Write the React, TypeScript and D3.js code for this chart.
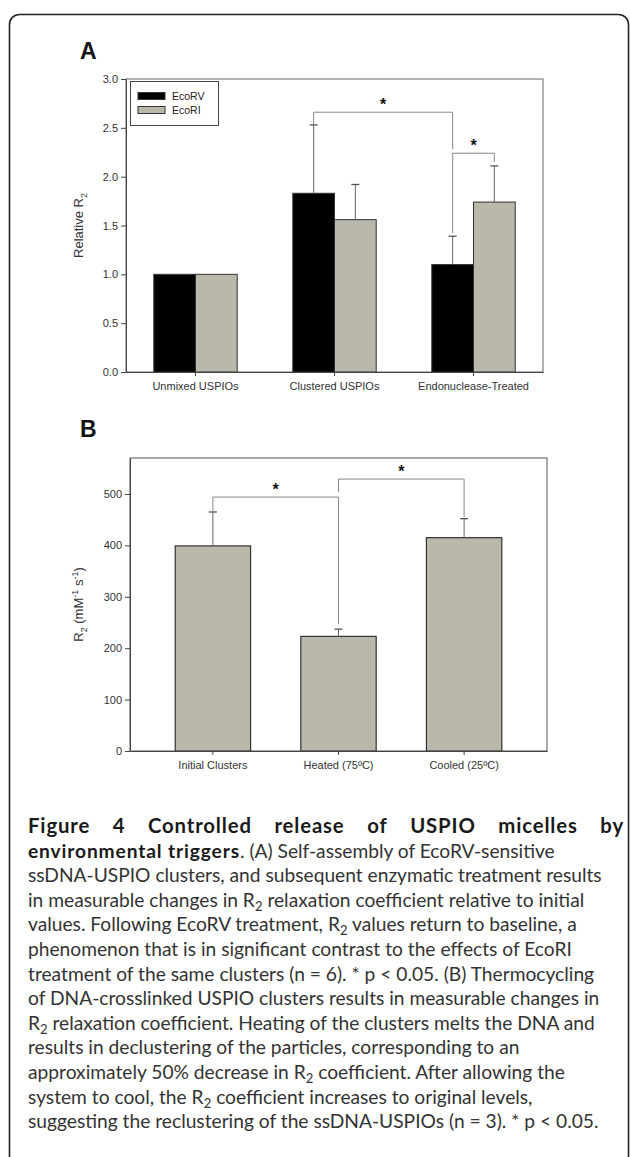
import * as d3 from "d3";
import React, { useEffect, useRef } from "react";

// panel A data
const groupsA = ["Unmixed USPIOs", "Clustered USPIOs", "Endonuclease-Treated"];
const enzymes = ["EcoRV", "EcoRI"];
const ecoRV = [1.0, 1.83, 1.1];
const ecoRVErr = [0, 0.7, 0.29];
const ecoRI = [1.0, 1.56, 1.74];
const ecoRIErr = [0, 0.36, 0.37];
const ticksA = [0, 0.5, 1.0, 1.5, 2.0, 2.5, 3.0];

// panel B data
const groupsB = ["Initial Clusters", "Heated (75ºC)", "Cooled (25ºC)"];
const r2 = [399, 223, 415];
const r2Err = [66, 14, 37];
const ticksB = [0, 100, 200, 300, 400, 500];

// significance brackets: [from, to, top, leftFoot, rightFoot]
const sigA = [
  [["Clustered USPIOs", "EcoRV"], ["Endonuclease-Treated", "EcoRV"], 2.66, 2.53, 2.28],
  [["Endonuclease-Treated", "EcoRV"], ["Endonuclease-Treated", "EcoRI"], 2.24, 1.42, 2.15],
];
const sigB = [
  ["Initial Clusters", "Heated (75ºC)", 494, 465, 247],
  ["Heated (75ºC)", "Cooled (25ºC)", 529, 504, 455],
];

// caption lines, segments: [text, bold?]  "_2" = subscript 2
const caption = [
  [["Figure 4 Controlled release of USPIO micelles by", true]],
  [["environmental triggers", true], [". (A) Self-assembly of EcoRV-sensitive", false]],
  [["ssDNA-USPIO clusters, and subsequent enzymatic treatment results", false]],
  [["in measurable changes in R_2 relaxation coefficient relative to initial", false]],
  [["values. Following EcoRV treatment, R_2 values return to baseline, a", false]],
  [["phenomenon that is in significant contrast to the effects of EcoRI", false]],
  [["treatment of the same clusters (n = 6). * p < 0.05. (B) Thermocycling", false]],
  [["of DNA-crosslinked USPIO clusters results in measurable changes in", false]],
  [["R_2 relaxation coefficient. Heating of the clusters melts the DNA and", false]],
  [["results in declustering of the particles, corresponding to an", false]],
  [["approximately 50% decrease in R_2 coefficient. After allowing the", false]],
  [["system to cool, the R_2 coefficient increases to original levels,", false]],
  [["suggesting the reclustering of the ssDNA-USPIOs (n = 3). * p < 0.05.", false]],
];

const W = 630;
const H = 1157;
const FONT = "'Liberation Sans', Arial, sans-serif";
const CAPFONT = "Lato, 'Open Sans', sans-serif";
const GRAY = "#b9b8aa";

function Figure() {
  const ref = useRef(null);

  useEffect(() => {
    const svg = d3.select(ref.current);
    svg.selectAll("*").remove();

    // outer frame
    svg
      .append("rect")
      .attr("x", 9.5)
      .attr("y", 14.5)
      .attr("width", 619)
      .attr("height", 1180)
      .attr("rx", 10)
      .attr("fill", "none")
      .attr("stroke", "#222")
      .attr("stroke-width", 1.6);

    const panelLabel = (t, y) =>
      svg
        .append("text")
        .attr("x", 80)
        .attr("y", y)
        .attr("font-family", FONT)
        .attr("font-weight", "bold")
        .attr("font-size", 23)
        .attr("fill", "#111")
        .text(t);

    // ---------- panel A ----------
    panelLabel("A", 59);
    const x0 = d3.scaleBand().domain(groupsA).range([126, 543]).paddingInner(0.4).paddingOuter(0.2);
    const x1 = d3.scaleBand().domain(enzymes).range([0, x0.bandwidth()]);
    const yA = d3.scaleLinear().domain([0, 3]).range([372, 79]);
    const cx = (g, e) => x0(g) + x1(e) + x1.bandwidth() / 2;

    const gA = svg.append("g");
    gA.append("rect")
      .attr("x", 126)
      .attr("y", yA(3))
      .attr("width", 543 - 126)
      .attr("height", yA(0) - yA(3))
      .attr("fill", "none")
      .attr("stroke", "#666");

    const rowsA = groupsA.flatMap((g, i) => [
      { g, e: "EcoRV", v: ecoRV[i], err: ecoRVErr[i], fill: "#000" },
      { g, e: "EcoRI", v: ecoRI[i], err: ecoRIErr[i], fill: GRAY },
    ]);

    gA.selectAll("rect.bar")
      .data(rowsA)
      .join("rect")
      .attr("class", "bar")
      .attr("x", (d) => x0(d.g) + x1(d.e))
      .attr("y", (d) => yA(d.v))
      .attr("width", x1.bandwidth())
      .attr("height", (d) => yA(0) - yA(d.v))
      .attr("fill", (d) => d.fill)
      .attr("stroke", "#333");

    const errA = gA.selectAll("g.err").data(rowsA.filter((d) => d.err > 0)).join("g");
    errA.append("line")
      .attr("x1", (d) => cx(d.g, d.e))
      .attr("x2", (d) => cx(d.g, d.e))
      .attr("y1", (d) => yA(d.v))
      .attr("y2", (d) => yA(d.v + d.err))
      .attr("stroke", "#666");
    errA.append("line")
      .attr("x1", (d) => cx(d.g, d.e) - 4)
      .attr("x2", (d) => cx(d.g, d.e) + 4)
      .attr("y1", (d) => yA(d.v + d.err))
      .attr("y2", (d) => yA(d.v + d.err))
      .attr("stroke", "#555")
      .attr("stroke-width", 1.3);

    sigA.forEach(([a, b, top, lf, rf]) => {
      const xa = cx(a[0], a[1]);
      const xb = cx(b[0], b[1]);
      gA.append("path")
        .attr("d", `M${xa},${yA(lf)}V${yA(top)}H${xb}V${yA(rf)}`)
        .attr("fill", "none")
        .attr("stroke", "#888");
      gA.append("text")
        .attr("x", (xa + xb) / 2)
        .attr("y", yA(top) - 2)
        .attr("text-anchor", "middle")
        .attr("font-family", FONT)
        .attr("font-weight", "bold")
        .attr("font-size", 16)
        .attr("fill", "#111")
        .text("*");
    });

    const axA = gA.append("g")
      .attr("transform", "translate(126,0)")
      .call(d3.axisLeft(yA).tickValues(ticksA).tickFormat(d3.format(".1f")).tickSize(5).tickSizeOuter(0));
    const axAx = gA.append("g")
      .attr("transform", `translate(0,${yA(0)})`)
      .call(d3.axisBottom(x0).tickSize(4).tickSizeOuter(0).tickPadding(6));
    [axA, axAx].forEach((ax) => {
      ax.select(".domain").attr("stroke", "#444");
      ax.selectAll("line").attr("stroke", "#444");
      ax.selectAll("text").attr("font-family", FONT).attr("font-size", 11).attr("fill", "#333");
    });

    // legend
    const leg = gA.append("g");
    leg.append("rect")
      .attr("x", 130.5).attr("y", 81.5).attr("width", 88).attr("height", 44)
      .attr("fill", "#fff").attr("stroke", "#444");
    enzymes.forEach((e, i) => {
      leg.append("rect")
        .attr("x", 138).attr("y", 92.5 + i * 14).attr("width", 27).attr("height", 7)
        .attr("fill", i ? GRAY : "#000").attr("stroke", "#333");
      leg.append("text")
        .attr("x", 172).attr("y", 100 + i * 14)
        .attr("font-family", FONT).attr("font-size", 10.5).attr("fill", "#222")
        .text(e);
    });

    const yTitleA = gA.append("text")
      .attr("transform", `translate(83,${(yA(0) + yA(3)) / 2}) rotate(-90)`)
      .attr("text-anchor", "middle")
      .attr("font-family", FONT)
      .attr("font-size", 13)
      .attr("fill", "#333");
    yTitleA.append("tspan").text("Relative R");
    yTitleA.append("tspan").attr("font-size", 9).attr("dy", 4).text("2");

    // ---------- panel B ----------
    panelLabel("B", 437);
    const xB = d3.scaleBand().domain(groupsB).range([130, 547]).paddingInner(0.4).paddingOuter(0.36);
    const yB = d3.scaleLinear().domain([0, 570]).range([751, 458]);
    const cb = (g) => xB(g) + xB.bandwidth() / 2;
    const gB = svg.append("g");
    gB.append("rect")
      .attr("x", 130)
      .attr("y", yB(570))
      .attr("width", 547 - 130)
      .attr("height", yB(0) - yB(570))
      .attr("fill", "none")
      .attr("stroke", "#555");

    const rowsB = groupsB.map((g, i) => ({ g, v: r2[i], err: r2Err[i] }));
    gB.selectAll("rect.bar")
      .data(rowsB)
      .join("rect")
      .attr("class", "bar")
      .attr("x", (d) => xB(d.g))
      .attr("y", (d) => yB(d.v))
      .attr("width", xB.bandwidth())
      .attr("height", (d) => yB(0) - yB(d.v))
      .attr("fill", GRAY)
      .attr("stroke", "#333")
      .attr("stroke-width", 1.2);
    const errB = gB.selectAll("g.err").data(rowsB).join("g");
    errB.append("line")
      .attr("x1", (d) => cb(d.g)).attr("x2", (d) => cb(d.g))
      .attr("y1", (d) => yB(d.v)).attr("y2", (d) => yB(d.v + d.err))
      .attr("stroke", "#666");
    errB.append("line")
      .attr("x1", (d) => cb(d.g) - 4).attr("x2", (d) => cb(d.g) + 4)
      .attr("y1", (d) => yB(d.v + d.err)).attr("y2", (d) => yB(d.v + d.err))
      .attr("stroke", "#555").attr("stroke-width", 1.3);

    sigB.forEach(([a, b, top, lf, rf]) => {
      const xa = cb(a);
      const xb = cb(b);
      gB.append("path")
        .attr("d", `M${xa},${yB(lf)}V${yB(top)}H${xb}V${yB(rf)}`)
        .attr("fill", "none")
        .attr("stroke", "#888");
      gB.append("text")
        .attr("x", (xa + xb) / 2)
        .attr("y", yB(top) - 2)
        .attr("text-anchor", "middle")
        .attr("font-family", FONT)
        .attr("font-weight", "bold")
        .attr("font-size", 16)
        .attr("fill", "#111")
        .text("*");
    });

    const axB = gB.append("g")
      .attr("transform", "translate(130,0)")
      .call(d3.axisLeft(yB).tickValues(ticksB).tickSize(5).tickSizeOuter(0));
    const axBx = gB.append("g")
      .attr("transform", `translate(0,${yB(0)})`)
      .call(d3.axisBottom(xB).tickSize(4).tickSizeOuter(0).tickPadding(6));
    [axB, axBx].forEach((ax) => {
      ax.select(".domain").attr("stroke", "#444");
      ax.selectAll("line").attr("stroke", "#444");
      ax.selectAll("text").attr("font-family", FONT).attr("font-size", 11).attr("fill", "#333");
    });

    const yTitleB = gB.append("text")
      .attr("transform", `translate(83,${(yB(0) + yB(570)) / 2}) rotate(-90)`)
      .attr("text-anchor", "middle")
      .attr("font-family", FONT)
      .attr("font-size", 13)
      .attr("fill", "#333");
    yTitleB.append("tspan").text("R");
    yTitleB.append("tspan").attr("font-size", 9).attr("dy", 4).text("2");
    yTitleB.append("tspan").attr("dy", -4).text(" (mM");
    yTitleB.append("tspan").attr("font-size", 9).attr("dy", -5).text("-1");
    yTitleB.append("tspan").attr("dy", 5).text(" s");
    yTitleB.append("tspan").attr("font-size", 9).attr("dy", -5).text("-1");
    yTitleB.append("tspan").attr("dy", 5).text(")");

    // ---------- caption ----------
    const capX = 28;
    const capRight = 624;
    // size the caption font so a full line fills the column like the original
    const probe = svg.append("text").attr("font-family", CAPFONT).attr("font-size", 19).text(caption[2][0][0]);
    const fs = (19 * 574) / probe.node().getComputedTextLength();
    probe.remove();
    const boldSpacing = fs * 0.045;

    const cap = svg.append("g").attr("font-family", CAPFONT).attr("font-size", fs);
    caption.forEach((segs, i) => {
      const y = 833 + i * 24.6;
      if (i === 0) {
        // justified bold heading line
        const words = segs[0][0].split(" ");
        const hfs = fs * 1.06;
        const widths = words.map((w) => {
          const p = cap.append("text")
            .attr("font-weight", "bold").attr("font-size", hfs).attr("letter-spacing", boldSpacing)
            .text(w);
          const l = p.node().getComputedTextLength();
          p.remove();
          return l;
        });
        const gap = (capRight - capX - d3.sum(widths)) / (words.length - 1);
        let x = capX;
        words.forEach((w, k) => {
          cap.append("text")
            .attr("x", x).attr("y", y)
            .attr("font-weight", "bold").attr("font-size", hfs).attr("letter-spacing", boldSpacing)
            .attr("fill", "#1a1a1a")
            .text(w);
          x += widths[k] + gap;
        });
        return;
      }
      const t = cap.append("text").attr("x", capX).attr("y", y).attr("fill", "#333");
      let shift = 0;
      segs.forEach(([s, bold]) => {
        s.split(/(_2)/).forEach((part) => {
          if (!part) return;
          if (part === "_2") {
            t.append("tspan").attr("font-size", fs * 0.68).attr("dy", 4 - shift).text("2");
            shift = 4;
          } else {
            t.append("tspan")
              .attr("dy", -shift)
              .attr("font-weight", bold ? "bold" : "normal")
              .attr("letter-spacing", bold ? boldSpacing : 0)
              .attr("fill", bold ? "#1a1a1a" : "#333")
              .text(part);
            shift = 0;
          }
        });
      });
    });
  }, []);

  return <svg ref={ref} width={W} height={H} style={{ position: "absolute", left: 0, top: 0, background: "#fff" }} />;
}

export default function App() {
  return <Figure />;
}
